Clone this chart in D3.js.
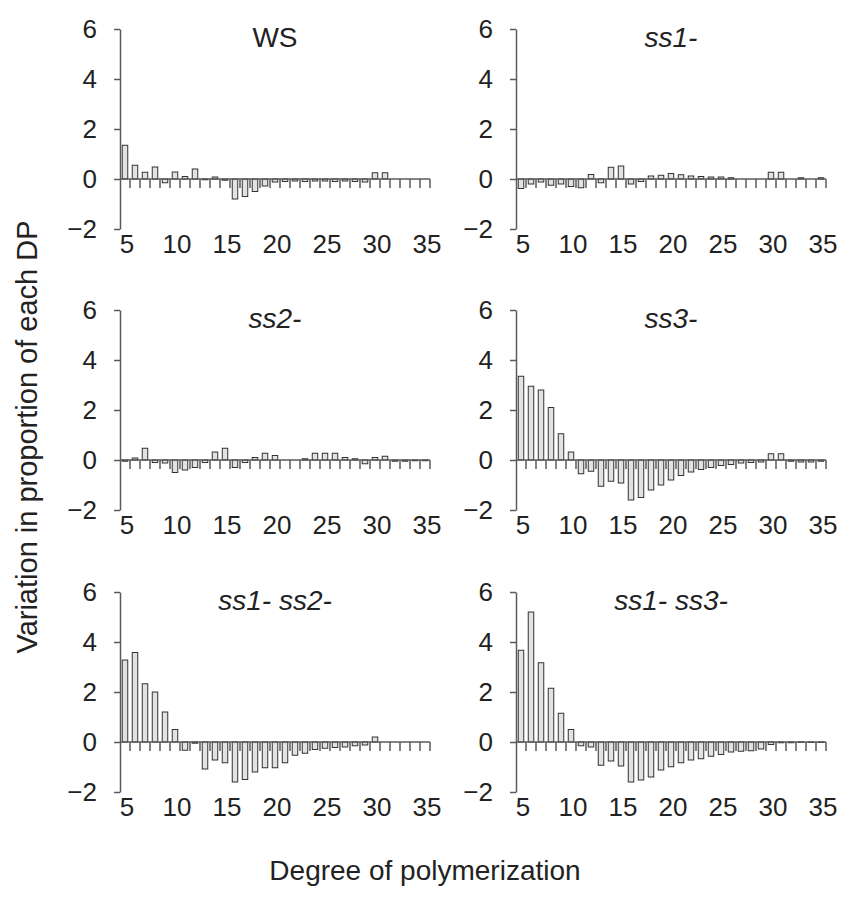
<!DOCTYPE html>
<html>
<head>
<meta charset="utf-8">
<script src="https://cdn.jsdelivr.net/npm/d3@7"></script>
<style>
  body { margin: 0; background: #fff; }
  text { font-family: "Liberation Sans", Arial, sans-serif; fill: #222; }
</style>
</head>
<body>
<div id="chart"></div>
<script>
// degree of polymerization (categories)
const dp = [5, 6, 7, 8, 9, 10, 11, 12, 13, 14, 15, 16, 17, 18, 19, 20,
            21, 22, 23, 24, 25, 26, 27, 28, 29, 30, 31, 32, 33, 34, 35];
const xLabels = [5, 10, 15, 20, 25, 30, 35];
const yTicks = [-2, 0, 2, 4, 6];

// variation in proportion of each DP, one array per genotype
const ws = [1.35, 0.55, 0.27, 0.48, -0.15, 0.28, 0.1, 0.4, -0.03, 0.08, -0.05, -0.8, -0.7, -0.5, -0.28, -0.12,
            -0.1, -0.08, -0.1, -0.08, -0.08, -0.1, -0.08, -0.1, -0.12, 0.25, 0.25, 0, 0, 0, 0];
const ss1 = [-0.38, -0.2, -0.12, -0.25, -0.2, -0.3, -0.35, 0.18, -0.15, 0.47, 0.52, -0.2, -0.1, 0.12, 0.15, 0.22,
             0.17, 0.12, 0.1, 0.08, 0.08, 0.05, 0, 0, 0, 0.27, 0.27, 0, 0.05, 0, 0.05];
const ss2 = [-0.05, 0.08, 0.47, -0.1, -0.12, -0.5, -0.4, -0.3, -0.1, 0.32, 0.47, -0.3, -0.1, 0.1, 0.27, 0.18,
             0, 0, 0.05, 0.27, 0.27, 0.27, 0.1, 0.05, -0.15, 0.1, 0.15, -0.05, -0.05, -0.03, -0.03];
const ss3 = [3.35, 2.95, 2.8, 2.1, 1.05, 0.32, -0.55, -0.45, -1.05, -0.85, -0.92, -1.6, -1.5, -1.2, -1.0, -0.8,
             -0.62, -0.48, -0.38, -0.3, -0.22, -0.18, -0.12, -0.1, -0.08, 0.25, 0.25, -0.05, -0.08, -0.08, -0.05];
const ss1ss2 = [3.28, 3.58, 2.33, 2.0, 1.2, 0.5, -0.33, -0.05, -1.08, -0.72, -0.83, -1.6, -1.5, -1.2, -1.03, -1.03,
                -0.83, -0.53, -0.45, -0.3, -0.25, -0.22, -0.2, -0.15, -0.12, 0.2, 0, 0, 0, 0, 0];
const ss1ss3 = [3.67, 5.2, 3.17, 2.15, 1.15, 0.5, -0.15, -0.2, -0.93, -0.76, -0.96, -1.6, -1.52, -1.4, -1.12, -0.99,
                -0.83, -0.72, -0.67, -0.57, -0.5, -0.4, -0.37, -0.35, -0.28, -0.1, -0.03, -0.03, -0.02, -0.02, -0.02];

const titles = ["WS", "ss1-", "ss2-", "ss3-", "ss1- ss2-", "ss1- ss3-"];
const italic = [false, true, true, true, true, true];
const series = [ws, ss1, ss2, ss3, ss1ss2, ss1ss3];

let width = 843,
    height = 897;

// panel placement
let colX = [120, 516],
    rowY = [29, 310, 592],
    panelW = 310,
    panelH = 200;

let axisColor = "#5a5a5a";

let svg = d3.select("#chart")
    .append("svg")
    .attr("width", width)
    .attr("height", height);

series.forEach((vals, i) => {
    let x0 = colX[i % 2],
        y0 = rowY[Math.floor(i / 2)];

    let x = d3.scaleBand()
        .domain(dp)
        .range([x0, x0 + panelW])
        .paddingInner(0.45)
        .paddingOuter(0.225);

    let y = d3.scaleLinear()
        .domain([-2, 6])
        .range([y0 + panelH, y0]);

    let g = svg.append("g");

    // bars
    g.selectAll("rect")
        .data(dp)
        .enter()
        .append("rect")
        .attr("x", d => x(d))
        .attr("width", x.bandwidth())
        .attr("y", (d, j) => y(Math.max(0, vals[j])))
        .attr("height", (d, j) => Math.abs(y(vals[j]) - y(0)))
        .attr("fill", "#e2e2e2")
        .attr("stroke", "#333")
        .attr("stroke-width", 1);

    // y axis
    let yAxis = g.append("g")
        .attr("transform", "translate(" + x0 + ",0)")
        .call(d3.axisLeft(y).tickValues(yTicks).tickSize(6).tickSizeOuter(0).tickPadding(17));
    yAxis.select(".domain").attr("stroke", axisColor).attr("stroke-width", 1.5);
    yAxis.selectAll(".tick line").attr("stroke", axisColor).attr("stroke-width", 1.5);
    yAxis.selectAll(".tick text")
        .style("font-size", "26px")
        .style("font-family", "'Liberation Sans', Arial, sans-serif")
        .attr("fill", "#222");

    // x axis: line at zero, ticks between categories
    g.append("line")
        .attr("x1", x0).attr("x2", x0 + panelW)
        .attr("y1", y(0)).attr("y2", y(0))
        .attr("stroke", axisColor).attr("stroke-width", 1.5);

    let half = x.step() * x.paddingInner() / 2;
    g.selectAll(".xtick")
        .data(dp)
        .enter()
        .append("line")
        .attr("class", "xtick")
        .attr("x1", d => x(d) + x.bandwidth() + half)
        .attr("x2", d => x(d) + x.bandwidth() + half)
        .attr("y1", y(0))
        .attr("y2", y(0) + 9)
        .attr("stroke", axisColor).attr("stroke-width", 1.5);

    g.selectAll(".xlabel")
        .data(xLabels)
        .enter()
        .append("text")
        .attr("class", "xlabel")
        .attr("x", d => x(d) + x.bandwidth() / 2 + 2)
        .attr("y", y(-2) + 24)
        .attr("text-anchor", "middle")
        .style("font-size", "26px")
        .text(d => d);

    // panel title
    g.append("text")
        .attr("x", x0 + panelW / 2)
        .attr("y", y0 + 18)
        .attr("text-anchor", "middle")
        .style("font-size", "28px")
        .style("font-style", italic[i] ? "italic" : "normal")
        .text(titles[i]);
});

// axis titles
svg.append("text")
    .attr("transform", "translate(37,437) rotate(-90)")
    .attr("text-anchor", "middle")
    .style("font-size", "29px")
    .text("Variation in proportion of each DP");

svg.append("text")
    .attr("x", 425)
    .attr("y", 880)
    .attr("text-anchor", "middle")
    .style("font-size", "28px")
    .text("Degree of polymerization");
</script>
</body>
</html>
